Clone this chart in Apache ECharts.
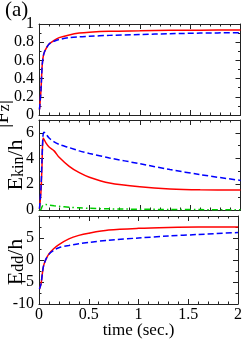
<!DOCTYPE html>
<html>
<head>
<meta charset="utf-8">
<script src="https://cdn.jsdelivr.net/npm/echarts@6/dist/echarts.min.js"></script>
<style>
html,body{margin:0;padding:0;background:#fff;}
#c{width:245px;height:340px;}
</style>
</head>
<body>
<div id="c"></div>
<script>
// time samples (sec.)
var timeSec = [0.005, 0.02, 0.03, 0.04, 0.05, 0.07, 0.1, 0.15, 0.2, 0.3, 0.4, 0.5, 0.7, 1.0, 1.3, 1.6, 2.0];

// panel (a) top: |Fz|
var fzRed  = [0.06, 0.28, 0.52, 0.63, 0.68, 0.73, 0.78, 0.82, 0.85, 0.88, 0.90, 0.91, 0.92, 0.925, 0.93, 0.932, 0.935];
var fzBlue = [0.06, 0.28, 0.52, 0.63, 0.68, 0.73, 0.78, 0.81, 0.83, 0.85, 0.86, 0.865, 0.875, 0.885, 0.893, 0.90, 0.905];

// middle: E_kin / h
var ekinRed   = [0.1, 1.5, 3.5, 5.6, 5.5, 5.2, 4.9, 4.6, 4.1, 3.4, 2.9, 2.55, 2.1, 1.8, 1.63, 1.57, 1.56];
var ekinBlue  = [0.1, 1.8, 4.0, 5.8, 6.05, 5.9, 5.6, 5.3, 5.1, 4.85, 4.6, 4.4, 4.05, 3.6, 3.15, 2.75, 2.3];
var ekinGreen = [0.0, 0.05, 0.25, 0.38, 0.42, 0.42, 0.38, 0.33, 0.29, 0.22, 0.17, 0.13, 0.09, 0.06, 0.04, 0.03, 0.02];

// bottom: E_dd / h
var eddRed  = [-6.6, -5.5, -3.8, -2.0, -1.0, 0.2, 1.4, 2.6, 3.5, 4.8, 5.6, 6.1, 6.8, 7.2, 7.4, 7.5, 7.5];
var eddBlue = [-6.6, -5.5, -3.8, -2.0, -1.0, 0.2, 1.3, 2.2, 2.8, 3.3, 3.7, 4.0, 4.5, 5.0, 5.45, 5.8, 6.25];

// axis ticks
var xTicks = {min: 0, max: 2, interval: 0.5};
var yFz   = {min: 0, max: 1, interval: 0.2, showMax: true};
var yEkin = {min: 0, max: 7, interval: 2, showMax: false};
var yEdd  = {min: -10, max: 10, interval: 5, showMax: false};

// axis titles (rich text)
var yTitles = ['{n||F}{s|z}{n||}', '{n|E}{s|kin}{n|/h}', '{n|E}{s|dd}{n|/h}'];

function pairs(v) { return timeSec.map(function (t, i) { return [t, v[i]]; }); }

var FONT = 'Liberation Serif';
var AX = '#222';
var grids = [
  {left: 39, right: 4.5, top: 24, height: 91},
  {left: 39, right: 4.5, top: 120, height: 90},
  {left: 39, right: 4.5, top: 216, height: 90}
];

function xAx(g, pos, labels) {
  return {
    type: 'value', gridIndex: g, position: pos, min: xTicks.min, max: xTicks.max, interval: xTicks.interval,
    axisLine: {show: true, onZero: false, lineStyle: {color: AX, width: 1}},
    axisTick: {show: true, inside: true, length: 5, lineStyle: {color: AX}},
    minorTick: {show: true, splitNumber: 5, length: 2.5, lineStyle: {color: AX}},
    splitLine: {show: false}, minorSplitLine: {show: false},
    axisLabel: {show: labels, color: '#000', fontFamily: FONT, fontSize: 16, margin: 3,
      showMinLabel: true, showMaxLabel: true, hideOverlap: false,
      formatter: function (v) { return String(v); }},
    name: labels ? 'time (sec.)' : '', nameLocation: 'middle', nameGap: 18, nameMoveOverlap: false,
    nameTextStyle: {color: '#000', fontFamily: FONT, fontSize: 17}
  };
}
function yAx(g, pos, sc, labels) {
  return {
    type: 'value', gridIndex: g, position: pos, min: sc.min, max: sc.max, interval: sc.interval,
    axisLine: {show: true, onZero: false, lineStyle: {color: AX, width: 1}},
    axisTick: {show: true, inside: true, length: 5, lineStyle: {color: AX}},
    minorTick: {show: true, splitNumber: 2, length: 2.5, lineStyle: {color: AX}},
    splitLine: {show: false}, minorSplitLine: {show: false},
    axisLabel: {show: labels, color: '#000', fontFamily: FONT, fontSize: 16, margin: 5,
      showMinLabel: true, showMaxLabel: sc.showMax, hideOverlap: false,
      formatter: function (v) { return String(v); }}
  };
}
function yTitle(text, x, y) {
  return {
    type: 'text', x: x, y: y, rotation: Math.PI / 2, z: 100,
    style: {
      text: text, align: 'center', verticalAlign: 'middle',
      textAlign: 'center', textVerticalAlign: 'middle', fill: '#000',
      fontFamily: FONT, fontSize: 22,
      rich: {
        n: {fontFamily: FONT, fontSize: 22, fill: '#000', lineHeight: 22},
        s: {fontFamily: FONT, fontSize: 16, fill: '#000', lineHeight: 16, verticalAlign: 'bottom'}
      }
    }
  };
}

var option = {
  animation: false,
  backgroundColor: '#fff',
  grid: grids,
  xAxis: [
    xAx(0, 'bottom', false), xAx(0, 'top', false),
    xAx(1, 'bottom', false), xAx(1, 'top', false),
    xAx(2, 'bottom', true),  xAx(2, 'top', false)
  ],
  yAxis: [
    yAx(0, 'left', yFz, true), yAx(0, 'right', yFz, false),
    yAx(1, 'left', yEkin, true), yAx(1, 'right', yEkin, false),
    yAx(2, 'left', yEdd, true), yAx(2, 'right', yEdd, false)
  ],
  graphic: [
    {type: 'text', left: 5, top: 0, style: {text: '(a)', fontFamily: FONT, fontSize: 21, fill: '#000'}},
    yTitle(yTitles[0], 2, 114),
    yTitle(yTitles[1], 16, 165),
    yTitle(yTitles[2], 16, 262)
  ],
  series: [
    {type: 'line', xAxisIndex: 0, yAxisIndex: 0, data: pairs(fzRed), showSymbol: false, smooth: 0.3, lineStyle: {color: '#ff0000', width: 1.5}},
    {type: 'line', xAxisIndex: 0, yAxisIndex: 0, data: pairs(fzBlue), showSymbol: false, smooth: 0.3, lineStyle: {color: '#0000ff', width: 1.5, type: [6, 3]}},
    {type: 'line', xAxisIndex: 2, yAxisIndex: 2, data: pairs(ekinRed), showSymbol: false, smooth: 0.3, lineStyle: {color: '#ff0000', width: 1.5}},
    {type: 'line', xAxisIndex: 2, yAxisIndex: 2, data: pairs(ekinBlue), showSymbol: false, smooth: 0.3, lineStyle: {color: '#0000ff', width: 1.5, type: [6, 3]}},
    {type: 'line', xAxisIndex: 2, yAxisIndex: 2, data: pairs(ekinGreen), showSymbol: false, smooth: 0.3, lineStyle: {color: '#00cc00', width: 1.5, type: [6, 3, 1.5, 3]}},
    {type: 'line', xAxisIndex: 4, yAxisIndex: 4, data: pairs(eddRed), showSymbol: false, smooth: 0.3, lineStyle: {color: '#ff0000', width: 1.5}},
    {type: 'line', xAxisIndex: 4, yAxisIndex: 4, data: pairs(eddBlue), showSymbol: false, smooth: 0.3, lineStyle: {color: '#0000ff', width: 1.5, type: [6, 3]}}
  ]
};
var chart = echarts.init(document.getElementById('c'), null, {renderer: 'canvas'});
chart.setOption(option);
</script>
</body>
</html>
